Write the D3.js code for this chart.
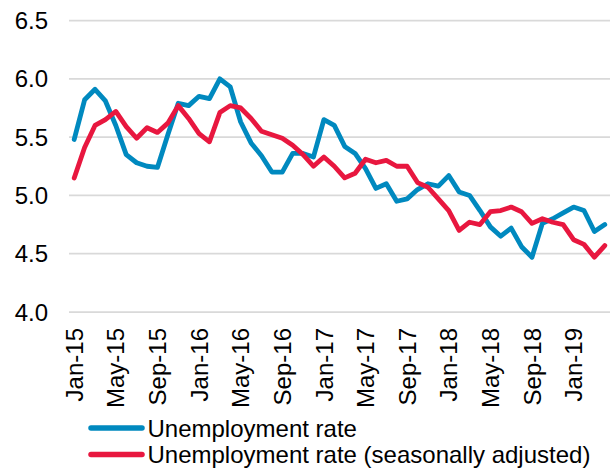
<!DOCTYPE html>
<html>
<head>
<meta charset="utf-8">
<script src="https://cdn.jsdelivr.net/npm/d3@7"></script>
<style>
  body { margin: 0; background: #fff; }
  svg text { font-family: "Liberation Sans", Arial, sans-serif; fill: #000; }
</style>
</head>
<body>
<div id="chart"></div>
<script>
// months on the category axis
var months = [
  "Jan-15","Feb-15","Mar-15","Apr-15","May-15","Jun-15","Jul-15","Aug-15","Sep-15","Oct-15","Nov-15","Dec-15",
  "Jan-16","Feb-16","Mar-16","Apr-16","May-16","Jun-16","Jul-16","Aug-16","Sep-16","Oct-16","Nov-16","Dec-16",
  "Jan-17","Feb-17","Mar-17","Apr-17","May-17","Jun-17","Jul-17","Aug-17","Sep-17","Oct-17","Nov-17","Dec-17",
  "Jan-18","Feb-18","Mar-18","Apr-18","May-18","Jun-18","Jul-18","Aug-18","Sep-18","Oct-18","Nov-18","Dec-18",
  "Jan-19","Feb-19","Mar-19","Apr-19"
];

var rate = [
  5.48, 5.82, 5.91, 5.81, 5.60, 5.35, 5.28, 5.25, 5.24, 5.52, 5.79, 5.77,
  5.85, 5.83, 6.00, 5.93, 5.63, 5.45, 5.34, 5.20, 5.20, 5.36, 5.36, 5.33,
  5.65, 5.60, 5.42, 5.36, 5.23, 5.06, 5.10, 4.95, 4.97, 5.05, 5.10, 5.08,
  5.17, 5.03, 5.00, 4.87, 4.73, 4.65, 4.72, 4.56, 4.47, 4.76, 4.80, 4.85,
  4.90, 4.87, 4.69, 4.75
];

var rateSA = [
  5.15, 5.41, 5.60, 5.65, 5.72, 5.59, 5.49, 5.58, 5.54, 5.62, 5.77, 5.66,
  5.53, 5.46, 5.71, 5.77, 5.75, 5.66, 5.55, 5.52, 5.49, 5.43, 5.35, 5.25,
  5.33, 5.25, 5.15, 5.19, 5.31, 5.28, 5.30, 5.25, 5.25, 5.11, 5.07, 4.97,
  4.87, 4.70, 4.77, 4.75, 4.86, 4.87, 4.90, 4.86, 4.76, 4.80, 4.77, 4.75,
  4.62, 4.58, 4.47, 4.57
];

var yTicks = [4.0, 4.5, 5.0, 5.5, 6.0, 6.5];
var seriesNames = ["Unemployment rate", "Unemployment rate (seasonally adjusted)"];
var colors = ["#0089bf", "#e8173f"];

var width = 615, height = 469;
var plot = {left: 69, right: 610, top: 20.5, bottom: 312};
var fontSize = "24px";

var svg = d3.select("#chart").append("svg")
    .attr("width", width)
    .attr("height", height);

var x = d3.scalePoint()
    .domain(months)
    .range([plot.left, plot.right])
    .padding(0.5);

var y = d3.scaleLinear()
    .domain([4, 6.5])
    .range([plot.bottom, plot.top]);

// gridlines
svg.append("g")
    .selectAll("line")
    .data(yTicks)
    .enter().append("line")
    .attr("x1", plot.left)
    .attr("x2", plot.right)
    .attr("y1", function (d) { return y(d); })
    .attr("y2", function (d) { return y(d); })
    .attr("stroke", "#d9d9d9")
    .attr("stroke-width", 1.75);

// y labels
svg.append("g")
    .selectAll("text")
    .data(yTicks)
    .enter().append("text")
    .attr("x", 48)
    .attr("y", function (d) { return y(d); })
    .attr("dy", "0.36em")
    .attr("text-anchor", "end")
    .style("font-size", fontSize)
    .text(function (d) { return d3.format(".1f")(d); });

// x labels, every 4th month
var shown = months.filter(function (d, i) { return i % 4 === 0; });
svg.append("g")
    .selectAll("text")
    .data(shown)
    .enter().append("text")
    .attr("transform", function (d) { return "translate(" + x(d) + "," + (plot.bottom + 16) + ") rotate(-90)"; })
    .attr("dy", "0.36em")
    .attr("text-anchor", "end")
    .style("font-size", fontSize)
    .text(function (d) { return d; });

var line = d3.line()
    .x(function (d, i) { return x(months[i]); })
    .y(function (d) { return y(d); });

[rate, rateSA].forEach(function (s, k) {
    svg.append("path")
        .datum(s)
        .attr("fill", "none")
        .attr("stroke", colors[k])
        .attr("stroke-width", 4.8)
        .attr("stroke-linejoin", "round")
        .attr("stroke-linecap", "round")
        .attr("d", line);
});

// legend
var legend = svg.append("g")
    .selectAll("g")
    .data(seriesNames)
    .enter().append("g")
    .attr("transform", function (d, i) { return "translate(0," + (428 + i * 26.5) + ")"; });

legend.append("line")
    .attr("x1", 91)
    .attr("x2", 142)
    .attr("stroke", function (d, i) { return colors[i]; })
    .attr("stroke-width", 5.5)
    .attr("stroke-linecap", "round");

legend.append("text")
    .attr("x", 147.5)
    .attr("dy", "0.36em")
    .style("font-size", fontSize)
    .text(function (d) { return d; });
</script>
</body>
</html>
